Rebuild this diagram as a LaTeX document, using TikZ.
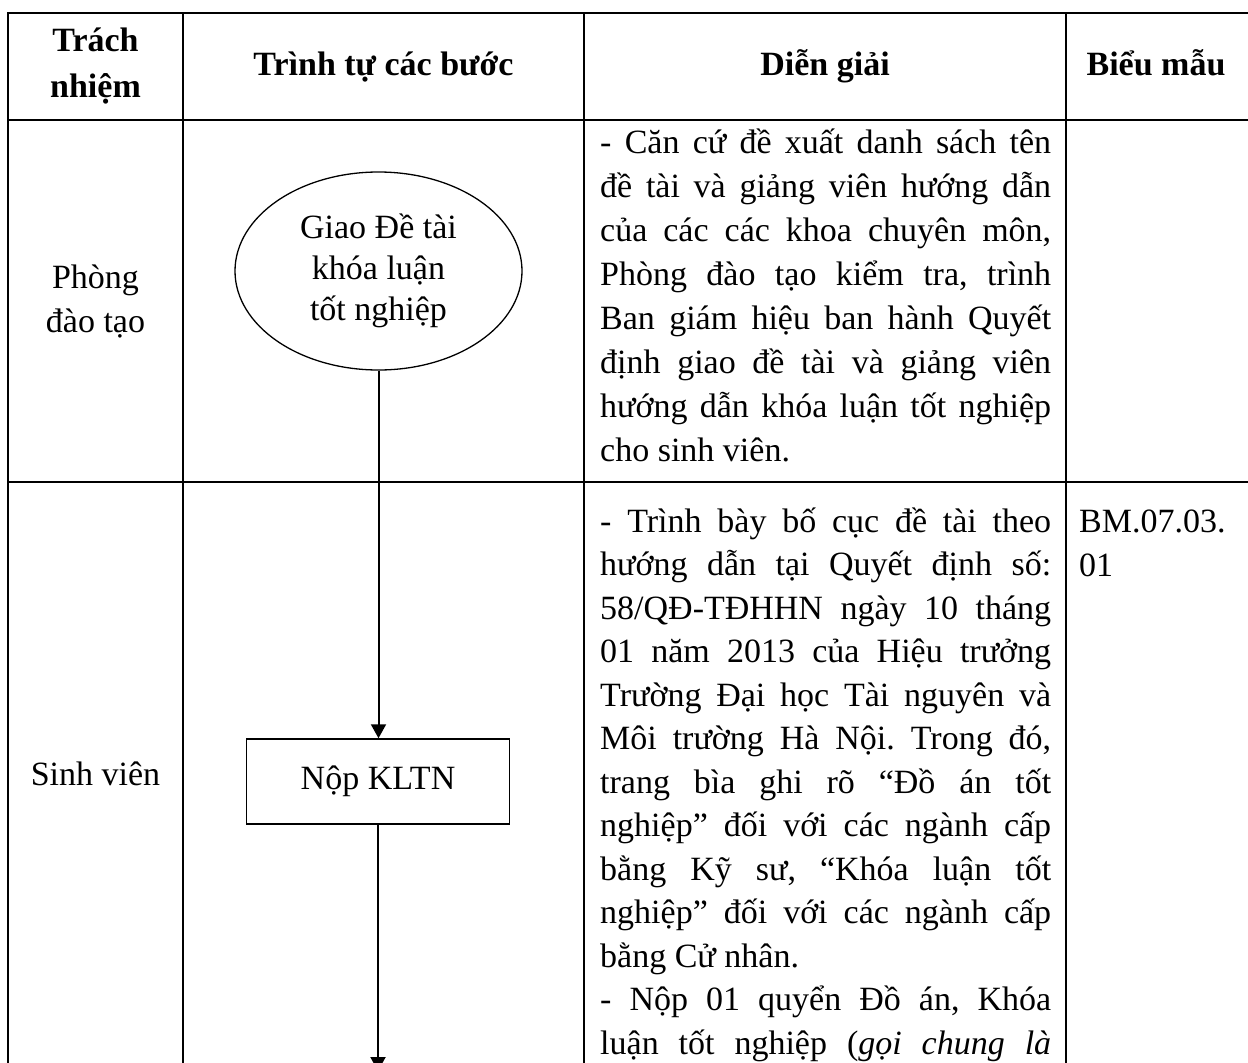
\documentclass[tikz,border=0pt]{standalone}
\usepackage{fontspec}
\setmainfont{Liberation Serif}
\usetikzlibrary{arrows.meta,shapes.geometric}
\begin{document}
\frenchspacing
\begin{tikzpicture}[x=1pt,y=-1pt,
  gridline/.style={line width=2pt,line join=miter},
  body/.style={font=\fontsize{34}{44}\selectfont,inner sep=0pt},
  headtxt/.style={font=\bfseries\fontsize{34}{46}\selectfont,inner sep=0pt},
  para/.style={body,text width=451pt,align=justify,anchor=base west},
  flow/.style={line width=2pt,-{Triangle[width=15pt,length=14pt]}},
  startnode/.style={ellipse,draw,line width=1.3pt,minimum width=287pt,minimum height=198pt,inner sep=0pt,font=\fontsize{34}{41}\selectfont,align=center},
  stepbox/.style={rectangle,draw,line width=1.5pt,minimum width=263pt,minimum height=85pt,inner sep=0pt,body}]
\useasboundingbox (0,0) rectangle (1248,1063);
\clip (0,0) rectangle (1248,1063);
% table grid
\draw[gridline] (8,1080) -- (8,13) -- (1260,13);
\draw[gridline] (183,13) -- (183,1080);
\draw[gridline] (584,13) -- (584,1080);
\draw[gridline] (1066,13) -- (1066,1080);
\draw[gridline] (8,120) -- (1260,120);
\draw[gridline] (8,482) -- (1260,482);
% header
\node[headtxt,align=center] (hResp) at (95.5,66.5) {Trách\\nhiệm};
\node[headtxt,anchor=base] (hSteps) at (383.5,75) {Trình tự các bước};
\node[headtxt,anchor=base] (hDesc) at (825,75) {Diễn giải};
\node[headtxt,anchor=base] (hForm) at (1156,75) {Biểu mẫu};
% column 1
\node[body,align=center] (rPDT) at (95.5,301) {Phòng\\đào tạo};
\node[body,anchor=base] (rSV) at (95.5,785) {Sinh viên};
% flow
\node[startnode] (giao) at (378.5,271) {Giao Đề tài\\khóa luận\\tốt nghiệp};
\node[stepbox] (nop) at (378,781.5) {Nộp KLTN};
\coordinate (flowend) at (378,1071);
\draw[flow] (giao.south) -- (giao.south |- nop.north);
\draw[flow] (nop.south) -- (flowend);
% descriptions
\node[para] (d1) at (600,153) {\tolerance=10000\hyphenpenalty=10000\rightskip=0pt
- Căn cứ đề xuất danh sách tên\linebreak
đề tài và giảng viên hướng dẫn\linebreak
của các các khoa chuyên môn,\linebreak
Phòng đào tạo kiểm tra, trình\linebreak
Ban giám hiệu ban hành Quyết\linebreak
định giao đề tài và giảng viên\linebreak
hướng dẫn khóa luận tốt nghiệp\linebreak
cho sinh viên.};
\node[para,font=\fontsize{34}{43.5}\selectfont] (d2) at (600,532) {\tolerance=10000\hyphenpenalty=10000\rightskip=0pt
- Trình bày bố cục đề tài theo\linebreak
hướng dẫn tại Quyết định số:\linebreak
58/QĐ-TĐHHN ngày 10 tháng\linebreak
01 năm 2013 của Hiệu trưởng\linebreak
Trường Đại học Tài nguyên và\linebreak
Môi trường Hà Nội. Trong đó,\linebreak
trang bìa ghi rõ “Đồ án tốt\linebreak
nghiệp” đối với các ngành cấp\linebreak
bằng Kỹ sư, “Khóa luận tốt\linebreak
nghiệp” đối với các ngành cấp\linebreak
bằng Cử nhân.\par
- Nộp 01 quyển Đồ án, Khóa\linebreak
luận tốt nghiệp (\textit{gọi chung là}\parfillskip=0pt\par};
% forms
\node[body,text width=160pt,anchor=base west] (f2) at (1079,532) {BM.07.03.\\01};
\end{tikzpicture}
\end{document}
